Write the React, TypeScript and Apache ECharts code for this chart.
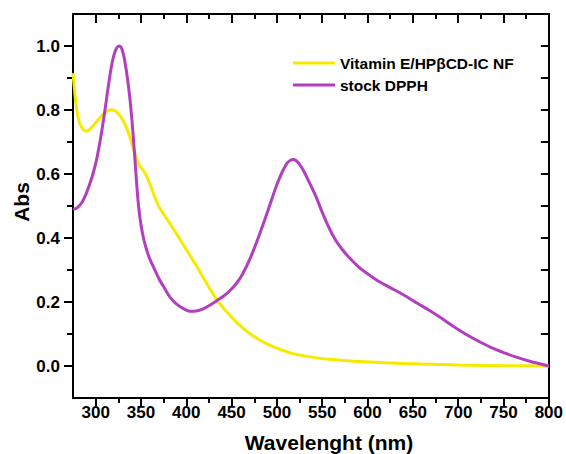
import React, { useEffect, useRef } from "react";
import * as echarts from "echarts";

// Wavelength (nm) and absorbance
const vitEWavelength = [275, 276.5, 278, 280, 282, 285, 288.5, 292, 297, 303, 309, 314, 318, 322, 327, 332, 337, 341, 345, 348, 351, 355, 360, 365, 369, 375, 382, 391, 400, 410, 420, 433, 445, 456, 467, 480, 492, 505, 520, 540, 560, 585, 620, 660, 700, 750, 800];
const vitEAbs = [0.915, 0.87, 0.825, 0.785, 0.762, 0.744, 0.734, 0.736, 0.75, 0.77, 0.789, 0.799, 0.801, 0.796, 0.782, 0.757, 0.722, 0.685, 0.65, 0.628, 0.617, 0.6, 0.567, 0.53, 0.502, 0.475, 0.445, 0.405, 0.364, 0.318, 0.27, 0.21, 0.168, 0.135, 0.108, 0.083, 0.065, 0.05, 0.037, 0.027, 0.02, 0.015, 0.01, 0.006, 0.003, 0.001, 0.0];

const dpphWavelength = [275, 278, 281, 285, 289, 293, 297, 301, 305, 309, 313, 317, 320, 323, 326, 329, 332, 335, 338, 341, 344, 346.5, 349, 352, 355, 358, 361, 365, 370, 376, 382, 389, 397, 404, 411, 418, 426, 434, 441, 448, 455, 462, 470, 478, 486, 493, 500, 506, 511, 515, 518, 521, 525, 530, 536, 543, 550, 557, 564, 571, 580, 590, 600, 612, 625, 640, 655, 668, 680, 694, 708, 722, 736, 750, 765, 780, 790, 800];
const dpphAbs = [0.49, 0.492, 0.498, 0.512, 0.535, 0.565, 0.6, 0.645, 0.705, 0.775, 0.855, 0.93, 0.97, 0.993, 1.0, 0.99, 0.955, 0.9, 0.83, 0.735, 0.62, 0.525, 0.46, 0.41, 0.375, 0.348, 0.326, 0.302, 0.272, 0.243, 0.215, 0.194, 0.179, 0.171, 0.172, 0.178, 0.19, 0.205, 0.218, 0.235, 0.257, 0.287, 0.333, 0.39, 0.452, 0.51, 0.567, 0.607, 0.633, 0.643, 0.645, 0.642, 0.63, 0.607, 0.572, 0.53, 0.48, 0.435, 0.397, 0.368, 0.338, 0.31, 0.288, 0.265, 0.245, 0.222, 0.196, 0.174, 0.152, 0.125, 0.1, 0.078, 0.058, 0.042, 0.027, 0.014, 0.007, 0.0];

const seriesNames = ["Vitamin E/HP\u03b2CD-IC NF", "stock DPPH"];
const seriesColors = ["#F5EB00", "#B23EC0"];

const xMajorTicks = [300, 350, 400, 450, 500, 550, 600, 650, 700, 750, 800];
const xMinorTicks = [325, 375, 425, 475, 525, 575, 625, 675, 725, 775];
const yMajorTicks = [0, 0.2, 0.4, 0.6, 0.8, 1.0];
const yMinorTicks = [0.1, 0.3, 0.5, 0.7, 0.9];

const X_MIN = 275;
const X_MAX = 800;
const Y_MIN = -0.1;
const Y_MAX = 1.1;

const FONT = "'Liberation Sans', Arial, Helvetica, sans-serif";

export default function App() {
  const ref = useRef<HTMLDivElement>(null);

  useEffect(() => {
    if (!ref.current) return;
    const chart = echarts.init(ref.current, undefined, { renderer: "svg" });

    const lineStyle = { color: "#000", width: 2 };
    const mkX = (position: string, ticks: number[], len: number, inside: boolean, showLine: boolean, showLabel: boolean) => ({
      type: "value",
      position,
      min: X_MIN,
      max: X_MAX,
      axisLine: { show: showLine, onZero: false, lineStyle },
      axisTick: { show: true, inside, length: len, customValues: ticks, lineStyle },
      axisLabel: {
        show: showLabel,
        customValues: ticks,
        margin: 6,
        color: "#000",
        fontSize: 17,
        fontWeight: "bold",
        fontFamily: FONT,
        formatter: (v: number) => String(v),
      },
      splitLine: { show: false },
    });
    const mkY = (position: string, ticks: number[], len: number, inside: boolean, showLine: boolean, showLabel: boolean) => ({
      type: "value",
      position,
      min: Y_MIN,
      max: Y_MAX,
      axisLine: { show: showLine, onZero: false, lineStyle },
      axisTick: { show: true, inside, length: len, customValues: ticks, lineStyle },
      axisLabel: {
        show: showLabel,
        customValues: ticks,
        margin: 13,
        color: "#000",
        fontSize: 17,
        fontWeight: "bold",
        fontFamily: FONT,
        formatter: (v: number) => v.toFixed(1),
      },
      splitLine: { show: false },
    });

    chart.setOption({
      animation: false,
      backgroundColor: "#fff",
      grid: { left: 73, right: 17, top: 14, bottom: 56 },
      xAxis: [
        mkX("bottom", xMajorTicks, 8, false, true, true),
        mkX("bottom", xMinorTicks, 5, false, false, false),
        mkX("top", xMajorTicks, 9, true, true, false),
        mkX("top", xMinorTicks, 5, true, false, false),
      ],
      yAxis: [
        mkY("left", yMajorTicks, 9, false, true, true),
        mkY("left", yMinorTicks, 6, false, false, false),
        mkY("right", yMajorTicks, 8, true, true, false),
        mkY("right", yMinorTicks, 8, true, false, false),
      ],
      legend: {
        orient: "vertical",
        left: 288,
        top: 50,
        icon: "rect",
        itemWidth: 42,
        itemHeight: 3,
        itemGap: 6,
        textStyle: { color: "#000", fontSize: 15.5, fontWeight: "bold", fontFamily: FONT },
        data: seriesNames,
      },
      series: [
        {
          name: seriesNames[0],
          type: "line",
          xAxisIndex: 0,
          yAxisIndex: 0,
          symbol: "none",
          smooth: 0.3,
          lineStyle: { color: seriesColors[0], width: 3 },
          itemStyle: { color: seriesColors[0] },
          data: vitEWavelength.map((w, i) => [w, vitEAbs[i]]),
        },
        {
          name: seriesNames[1],
          type: "line",
          xAxisIndex: 0,
          yAxisIndex: 0,
          symbol: "none",
          smooth: 0.3,
          lineStyle: { color: seriesColors[1], width: 3 },
          itemStyle: { color: seriesColors[1] },
          data: dpphWavelength.map((w, i) => [w, dpphAbs[i]]),
        },
      ],
      graphic: [
        {
          type: "text",
          x: 329,
          y: 442,
          style: {
            text: "Wavelenght (nm)",
            fill: "#000",
            font: `bold 21px ${FONT}`,
            align: "center",
            verticalAlign: "middle",
          },
        },
        {
          type: "text",
          x: 21,
          y: 202,
          rotation: Math.PI / 2,
          style: {
            text: "Abs",
            fill: "#000",
            font: `bold 21px ${FONT}`,
            align: "center",
            verticalAlign: "middle",
          },
        },
      ],
    });

    return () => chart.dispose();
  }, []);

  return (
    <div
      ref={ref}
      style={{ position: "fixed", left: 0, top: 0, width: 566, height: 454, background: "#fff" }}
    />
  );
}
